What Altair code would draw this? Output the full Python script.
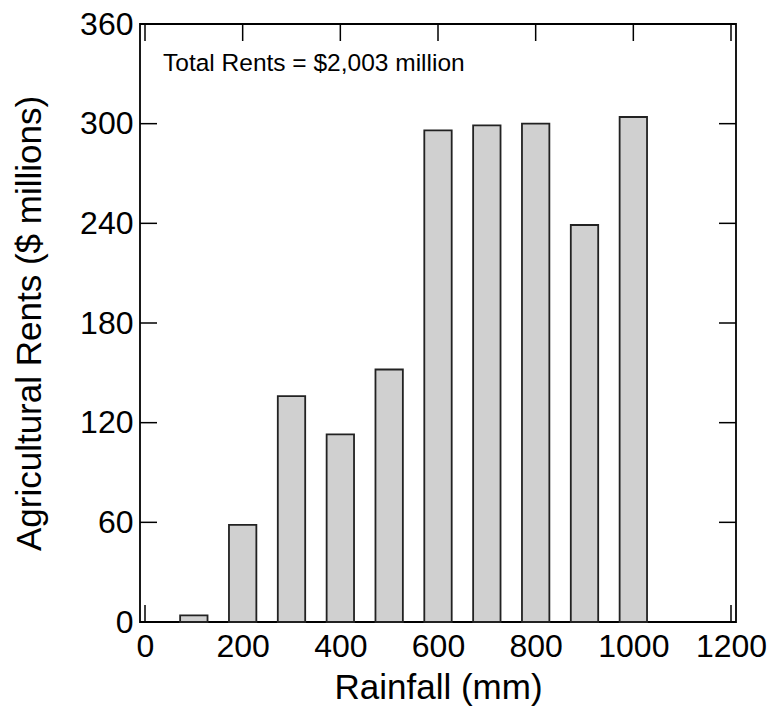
import altair as alt
import pandas as pd

rainfall = [100, 200, 300, 400, 500, 600, 700, 800, 900, 1000]
rents = [4, 58.5, 136, 113, 152, 296, 299, 300, 239, 304]
x_ticks = [0, 200, 400, 600, 800, 1000, 1200]
y_ticks = [0, 60, 120, 180, 240, 300, 360]
note = "Total Rents = $2,003 million"

W, H = 596, 598
TICK = 17
FONT = "Liberation Sans"

df = pd.DataFrame({"rain": rainfall, "rent": rents})
xt = pd.DataFrame({"v": x_ticks})
yt = pd.DataFrame({"v": y_ticks})

xs = alt.Scale(domain=[0, 1200], nice=False, zero=False)
ys = alt.Scale(domain=[0, 360], nice=False)

xaxis = alt.Axis(values=x_ticks, format="d", labelFontSize=32, titleFontSize=35,
                 labelPadding=9, titlePadding=8, ticks=False, domain=False,
                 grid=False, labelFont=FONT, titleFont=FONT, labelColor="black",
                 titleColor="black", titleFontWeight="normal")
yaxis = alt.Axis(values=y_ticks, format="d", labelFontSize=32, titleFontSize=35,
                 labelPadding=7, titlePadding=32, ticks=False, domain=False,
                 grid=False, labelFont=FONT, titleFont=FONT, labelColor="black",
                 titleColor="black", titleFontWeight="normal")

bars = alt.Chart(df).mark_bar(size=27.4, fill="#d0d0d0", stroke="#222222",
                              strokeWidth=1.8).encode(
    x=alt.X("rain:Q", scale=xs, axis=xaxis, title="Rainfall (mm)"),
    y=alt.Y("rent:Q", scale=ys, axis=yaxis, title="Agricultural Rents ($ millions)"),
)

tick_style = dict(color="black", strokeWidth=1.5)
bottom_ticks = alt.Chart(xt).mark_rule(**tick_style).encode(
    x=alt.X("v:Q", scale=xs), y=alt.value(H - TICK), y2=alt.value(H))
top_ticks = alt.Chart(xt).mark_rule(**tick_style).encode(
    x=alt.X("v:Q", scale=xs), y=alt.value(0), y2=alt.value(TICK))
left_ticks = alt.Chart(yt).mark_rule(**tick_style).encode(
    y=alt.Y("v:Q", scale=ys), x=alt.value(0), x2=alt.value(TICK))
right_ticks = alt.Chart(yt).mark_rule(**tick_style).encode(
    y=alt.Y("v:Q", scale=ys), x=alt.value(W - TICK), x2=alt.value(W))

text = alt.Chart(pd.DataFrame({"t": [note]})).mark_text(
    align="left", baseline="alphabetic", fontSize=24.5, font=FONT, color="black"
).encode(text="t:N", x=alt.value(23), y=alt.value(47))

chart = alt.layer(bottom_ticks, bars, top_ticks, left_ticks, right_ticks, text).properties(
    width=W, height=H,
    autosize=alt.AutoSizeParams(type="none"),
    padding={"left": 132, "top": 16, "right": 36, "bottom": 90},
    background="white",
).configure_view(stroke="black", strokeWidth=1.8)

chart.save("out.html", embed_options={"renderer": "svg", "actions": False})
